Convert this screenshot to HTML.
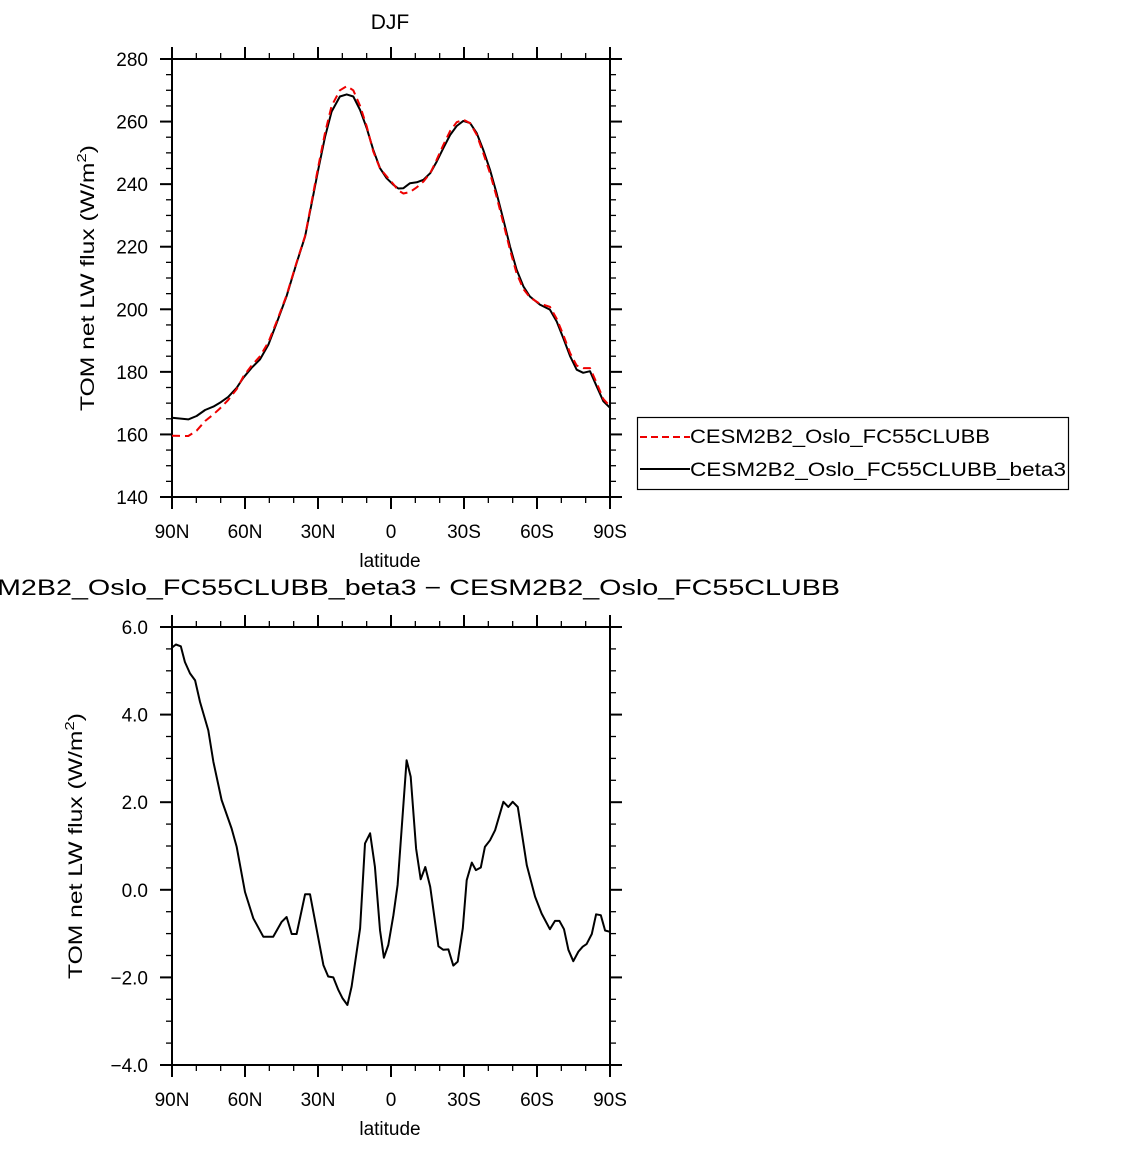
<!DOCTYPE html>
<html><head><meta charset="utf-8"><style>
html,body{margin:0;padding:0;background:#fff;}
svg text{font-family:"Liberation Sans",sans-serif;fill:#000;}
</style></head><body>
<svg id="chart" width="1144" height="1146" viewBox="0 0 1144 1146" xmlns="http://www.w3.org/2000/svg">
<text x="390" y="29" font-size="21" text-anchor="middle">DJF</text>
<g id="top"></g>
<g id="bot"></g>
<text x="840" y="595" font-size="22" text-anchor="end" textLength="902" lengthAdjust="spacingAndGlyphs">CESM2B2_Oslo_FC55CLUBB_beta3 − CESM2B2_Oslo_FC55CLUBB</text>
<g>
<rect x="637.5" y="417.5" width="431" height="72" fill="#fff" stroke="#000" stroke-width="1.2"/>
<line x1="640" y1="437" x2="690" y2="437" stroke="#e00" stroke-width="2" stroke-dasharray="7,4"/>
<text x="690" y="443" font-size="19" textLength="300" lengthAdjust="spacingAndGlyphs">CESM2B2_Oslo_FC55CLUBB</text>
<line x1="640" y1="469" x2="690" y2="469" stroke="#000" stroke-width="2"/>
<text x="690" y="476" font-size="19" textLength="376" lengthAdjust="spacingAndGlyphs">CESM2B2_Oslo_FC55CLUBB_beta3</text>
</g>
</svg>
<script>
const latTop=[90,83.3,79.9,76.4,73,70.3,66.9,63.4,60.7,57.3,53.8,50.4,47,42.9,38.8,35.3,32.6,29.9,27.1,24.4,21,18.2,15.5,12.7,10,7.3,4.5,1.8,-1,-3,-5.1,-7.8,-10.6,-13.3,-16.1,-18.8,-21.5,-24.3,-27,-29.7,-32.5,-35.2,-37.9,-40.7,-43.4,-46.2,-48.9,-51.6,-54.4,-57.1,-61.2,-65.3,-68.1,-70.8,-73.6,-76.3,-79,-81.8,-84.5,-87.3,-90];
const beta3=[165.3,164.8,165.9,167.8,168.9,170.1,172.0,174.9,178.1,181.3,184.0,188.7,195.6,204.2,214.8,223.3,233.9,244.6,255.2,263.2,268.0,268.7,268.0,263.7,257.9,251.0,245.1,241.9,239.8,238.6,238.7,240.3,240.6,241.4,243.5,247.2,251.5,255.7,258.6,260.2,259.5,256.3,251.0,244.6,237.1,228.6,220.1,212.7,207.3,204.1,201.5,199.9,196.1,190.8,185.0,180.7,179.7,180.2,175.4,170.6,168.5];
const base=[159.6,159.5,161.2,164.3,166.4,168.3,171.0,174.5,178.5,182,185,189.5,196,204.5,215,223.5,234.5,245.5,256.5,265,270,271.3,270,265,258.5,250.5,245,242.5,240,238,237,237.5,239,240.8,243.5,247.8,252.5,257,259.8,260.6,259.5,255.8,250,243.5,236,227.5,219,211.5,206.5,203.8,201.8,200.8,197,191.8,186,182,181.2,181.2,176.5,171.3,169];
const latDiff=[90,88.4,86.4,84.7,82.6,80.5,78.5,75.1,73,69.6,65.5,63.4,60,56.6,52.5,48.4,44.9,42.9,40.8,38.8,35.3,33.3,27.8,25.8,23.7,21.6,19.9,17.9,16.2,12.7,10.7,8.6,6.6,4.5,2.9,1.1,-1,-2.7,-6.4,-8.1,-10.3,-12.2,-14.1,-16.1,-19.5,-21.5,-23.6,-25.6,-27.4,-29.5,-31.1,-33.2,-34.9,-36.9,-38.6,-40.7,-42.8,-46.2,-48.2,-50,-52.1,-55.8,-59.2,-61.9,-65.3,-67.4,-69.2,-71.1,-72.9,-74.9,-77,-78.8,-80.4,-82.5,-84.3,-86.2,-88,-90];
const diff=[5.53,5.6,5.56,5.2,4.94,4.78,4.29,3.64,2.92,2.05,1.4,0.98,-0.05,-0.65,-1.07,-1.07,-0.73,-0.62,-1.01,-1.01,-0.1,-0.1,-1.72,-1.98,-2.0,-2.29,-2.48,-2.63,-2.21,-0.88,1.06,1.29,0.53,-0.92,-1.55,-1.26,-0.58,0.11,2.96,2.58,0.94,0.24,0.52,0.07,-1.29,-1.37,-1.36,-1.73,-1.64,-0.88,0.22,0.62,0.45,0.51,0.98,1.13,1.36,2.01,1.89,2.01,1.89,0.56,-0.16,-0.54,-0.9,-0.71,-0.71,-0.9,-1.37,-1.63,-1.41,-1.3,-1.24,-1.01,-0.56,-0.58,-0.93,-0.96];
const xTicks=[90,60,30,0,-30,-60,-90];
const xTickLabels=["90N","60N","30N","0","30S","60S","90S"];
const topYTicks=[140,160,180,200,220,240,260,280];
const botYTicks=[-4,-2,0,2,4,6];
const botYLabels=["−4.0","−2.0","0.0","2.0","4.0","6.0"];

const NS="http://www.w3.org/2000/svg";
const L=172,R=610;
function mk(parent,tag,attrs){const e=document.createElementNS(NS,tag);for(const k in attrs)e.setAttribute(k,attrs[k]);parent.appendChild(e);return e;}
function panel(g,T,B,ymin,ymax,yMajor,yMinor,yTicks,yLabels,yTitleX,name){
  const xs=lat=>L+(90-lat)/180*(R-L);
  const ys=v=>B-(v-ymin)/(ymax-ymin)*(B-T);
  const ax=mk(g,'g',{});
  
  
  mk(ax,'rect',{x:L,y:T,width:R-L,height:B-T,fill:'none',stroke:'#000','stroke-width':2});
  for(let lat=90;lat>=-90;lat-=10){const x=xs(lat);const maj=lat%30===0;const len=maj?12:6;
    mk(ax,'line',{x1:x,y1:B,x2:x,y2:B+len,stroke:'#000','stroke-width':maj?2:1.3});
    mk(ax,'line',{x1:x,y1:T,x2:x,y2:T-len,stroke:'#000','stroke-width':maj?2:1.3});}
  for(let v=ymin;v<=ymax+1e-9;v+=yMinor){const y=ys(v);const maj=Math.abs(Math.round(v/yMajor)*yMajor-v)<1e-6;const len=maj?12:6;
    mk(ax,'line',{x1:L,y1:y,x2:L-len,y2:y,stroke:'#000','stroke-width':maj?2:1.3});
    mk(ax,'line',{x1:R,y1:y,x2:R+len,y2:y,stroke:'#000','stroke-width':maj?2:1.3});}
  xTicks.forEach((t,i)=>{const e=mk(ax,'text',{x:xs(t),y:B+41,'font-size':19,'text-anchor':'middle'});e.textContent=xTickLabels[i];
    
    });
  yTicks.forEach((t,i)=>{const e=mk(ax,'text',{x:148,y:ys(t)+7,'font-size':19,'text-anchor':'end'});e.textContent=yLabels[i];
    
    });
  const xt=mk(ax,'text',{x:390,y:B+70,'font-size':19,'text-anchor':'middle'});xt.textContent='latitude';
  
  
  const cy=(T+B)/2;
  const yt=mk(ax,'text',{x:yTitleX,y:cy,'font-size':19,'text-anchor':'middle',textLength:266,lengthAdjust:'spacingAndGlyphs',transform:`rotate(-90 ${yTitleX} ${cy})`});
  yt.innerHTML='TOM net LW flux (W/m<tspan font-size="13" dy="-8">2</tspan><tspan dy="8">)</tspan>';
  
  
  return {xs,ys};
}
function line(g,lats,vals,a,attrs,name){
  const d=lats.map((l,i)=>(i?'L':'M')+a.xs(l).toFixed(1)+','+a.ys(vals[i]).toFixed(1)).join(' ');
  const p=mk(g,'path',Object.assign({d,fill:'none','stroke-width':2,'stroke-linejoin':'round'},attrs));
  
  
}
const gt=document.getElementById('top');
const at=panel(gt,59,497,140,280,20,5,topYTicks,topYTicks.map(String),94,'top');
line(gt,latTop,beta3,at,{stroke:'#000'},'line-beta3');
line(gt,latTop,base,at,{stroke:'#e00','stroke-dasharray':'8,5'},'line-base');
const gb=document.getElementById('bot');
const ab=panel(gb,627,1065,-4,6,2,0.5,botYTicks,botYLabels,82,'bottom');
line(gb,latDiff,diff,ab,{stroke:'#000'},'line-difference');
</script>
</body></html>
